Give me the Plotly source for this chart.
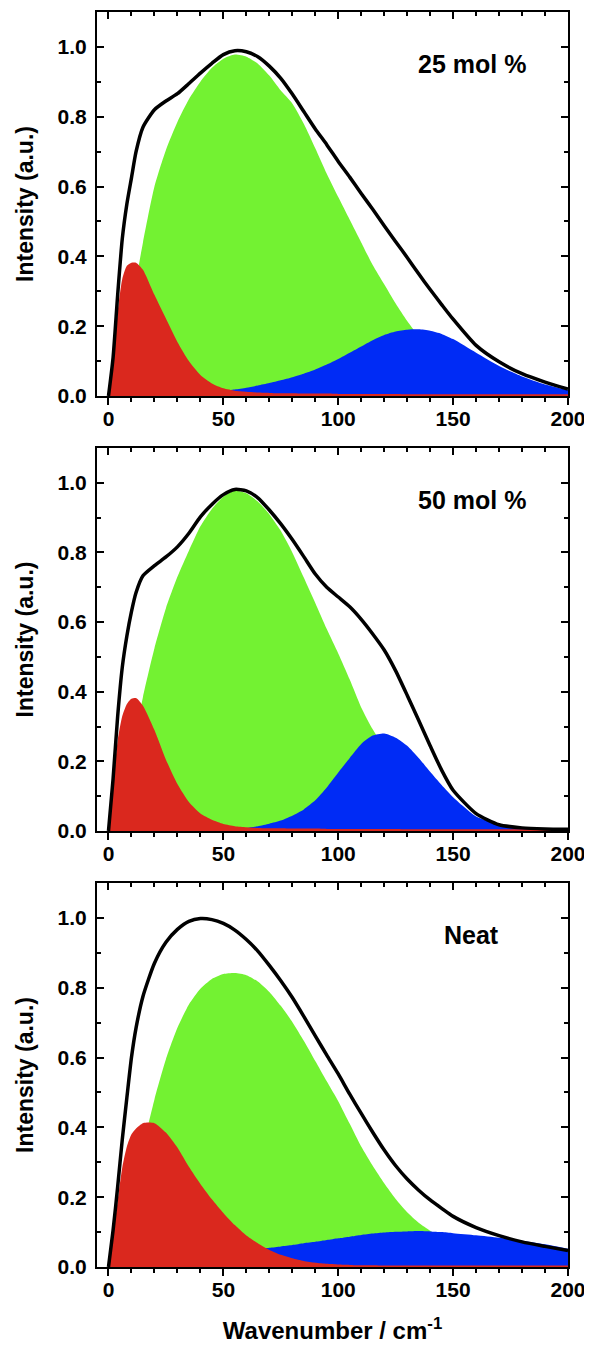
import plotly.graph_objects as go

# wavenumber points (cm-1) where the curves were read
wavenumber = [0, 2, 4, 6, 8, 10, 12, 15, 20, 25, 30, 35, 40, 45, 50, 55, 60, 65, 70, 75,
              80, 85, 90, 95, 100, 105, 110, 115, 120, 125, 130, 135, 140, 145, 150,
              160, 170, 180, 190, 200]

# 25 mol %
total_25 = [0, 0.11, 0.29, 0.45, 0.55, 0.625, 0.70, 0.77, 0.82, 0.845, 0.866, 0.895, 0.925, 0.953,
            0.978, 0.989, 0.986, 0.972, 0.945, 0.91, 0.865, 0.815, 0.765, 0.72, 0.672, 0.627, 0.58,
            0.535, 0.488, 0.442, 0.397, 0.35, 0.305, 0.262, 0.22, 0.145, 0.098, 0.064, 0.04, 0.02]
green_25 = [0, 0.015, 0.045, 0.11, 0.19, 0.26, 0.33, 0.44, 0.60, 0.705, 0.785, 0.85, 0.90, 0.94,
            0.966, 0.978, 0.972, 0.952, 0.918, 0.875, 0.838, 0.78, 0.71, 0.637, 0.57, 0.505, 0.44,
            0.375, 0.32, 0.265, 0.215, 0.17, 0.12, 0.085, 0.055, 0.02, 0.008, 0.003, 0.001, 0]
blue_25 = [0, 0, 0, 0.001, 0.001, 0.001, 0.002, 0.002, 0.003, 0.004, 0.006, 0.008, 0.010, 0.013,
           0.016, 0.019, 0.024, 0.030, 0.037, 0.045, 0.054, 0.064, 0.076, 0.090, 0.106, 0.124, 0.142,
           0.16, 0.175, 0.185, 0.19, 0.191, 0.187, 0.178, 0.163, 0.124, 0.086, 0.056, 0.033, 0.017]
red_25 = [0, 0.09, 0.24, 0.335, 0.373, 0.382, 0.382, 0.362, 0.29, 0.222, 0.155, 0.10, 0.06, 0.036,
          0.022, 0.015, 0.012, 0.010, 0.009, 0.008, 0.008, 0.007, 0.007, 0.007, 0.006, 0.006, 0.006,
          0.006, 0.006, 0.006, 0.005, 0.005, 0.005, 0.005, 0.005, 0.005, 0.005, 0.005, 0.005, 0.005]

# 50 mol %
total_50 = [0, 0.15, 0.33, 0.47, 0.56, 0.63, 0.685, 0.733, 0.762, 0.787, 0.816, 0.855, 0.902, 0.938,
            0.966, 0.981, 0.977, 0.957, 0.922, 0.882, 0.837, 0.788, 0.738, 0.70, 0.672, 0.644, 0.608,
            0.566, 0.52, 0.46, 0.39, 0.318, 0.245, 0.175, 0.117, 0.05, 0.018, 0.009, 0.006, 0.005]
green_50 = [0, 0.015, 0.045, 0.09, 0.15, 0.21, 0.28, 0.385, 0.525, 0.64, 0.73, 0.805, 0.875, 0.925,
            0.96, 0.977, 0.97, 0.946, 0.91, 0.862, 0.80, 0.728, 0.655, 0.58, 0.51, 0.435, 0.355,
            0.292, 0.24, 0.18, 0.125, 0.085, 0.055, 0.035, 0.02, 0.006, 0.002, 0.001, 0, 0]
blue_50 = [0, 0, 0, 0, 0.001, 0.001, 0.001, 0.001, 0.002, 0.002, 0.003, 0.003, 0.004, 0.005,
           0.006, 0.007, 0.009, 0.014, 0.021, 0.03, 0.044, 0.062, 0.088, 0.125, 0.168, 0.21, 0.25,
           0.274, 0.28, 0.268, 0.245, 0.21, 0.17, 0.132, 0.097, 0.042, 0.02, 0.01, 0.006, 0.005]
red_50 = [0, 0.13, 0.26, 0.33, 0.365, 0.38, 0.382, 0.36, 0.29, 0.205, 0.135, 0.083, 0.05, 0.032,
          0.02, 0.014, 0.011, 0.009, 0.008, 0.008, 0.007, 0.007, 0.007, 0.006, 0.006, 0.006, 0.006,
          0.006, 0.006, 0.006, 0.005, 0.005, 0.005, 0.005, 0.005, 0.005, 0.005, 0.005, 0.005, 0.005]

# neat
total_neat = [0, 0.105, 0.23, 0.365, 0.485, 0.60, 0.685, 0.775, 0.87, 0.93, 0.967, 0.99, 0.998, 0.995,
              0.984, 0.965, 0.938, 0.905, 0.864, 0.82, 0.772, 0.718, 0.662, 0.607, 0.553, 0.495, 0.44,
              0.386, 0.335, 0.29, 0.252, 0.22, 0.192, 0.168, 0.145, 0.113, 0.09, 0.072, 0.059, 0.047]
green_neat = [0, 0.01, 0.03, 0.06, 0.10, 0.15, 0.21, 0.34, 0.48, 0.595, 0.685, 0.752, 0.797, 0.825,
              0.839, 0.842, 0.836, 0.818, 0.788, 0.748, 0.702, 0.648, 0.59, 0.532, 0.475, 0.41, 0.345,
              0.29, 0.24, 0.195, 0.157, 0.127, 0.104, 0.082, 0.064, 0.038, 0.022, 0.012, 0.007, 0.004]
blue_neat = [0, 0.001, 0.003, 0.005, 0.007, 0.009, 0.011, 0.014, 0.018, 0.022, 0.026, 0.03, 0.034, 0.038,
             0.042, 0.045, 0.048, 0.051, 0.055, 0.059, 0.063, 0.068, 0.072, 0.077, 0.082, 0.087, 0.092,
             0.096, 0.099, 0.101, 0.102, 0.103, 0.102, 0.1, 0.097, 0.091, 0.084, 0.075, 0.065, 0.052]
red_neat = [0, 0.09, 0.19, 0.285, 0.345, 0.38, 0.397, 0.412, 0.412, 0.385, 0.342, 0.287, 0.238, 0.194,
            0.155, 0.12, 0.09, 0.068, 0.049, 0.035, 0.025, 0.017, 0.012, 0.009, 0.007, 0.006, 0.005,
            0.005, 0.004, 0.004, 0.004, 0.004, 0.004, 0.004, 0.004, 0.004, 0.004, 0.004, 0.004, 0.004]

labels = ["25 mol %", "50 mol %", "Neat"]

RED = 'rgb(218,40,30)'
GREEN = 'rgb(115,242,50)'
BLUE = 'rgb(0,43,245)'
FONT = "Liberation Sans, Arial, sans-serif"

panels = [
    (labels[0], total_25, green_25, blue_25, red_25),
    (labels[1], total_50, green_50, blue_50, red_50),
    (labels[2], total_neat, green_neat, blue_neat, red_neat),
]
domains = [[0.694, 1.0], [0.3474, 0.6526], [0.0, 0.306]]


def sfx(n):
    return '' if n == 1 else str(n)


fig = go.Figure()
for i, (label, tot, g, b, r) in enumerate(panels, start=1):
    xa, ya = 'x' + sfx(i), 'y' + sfx(i)
    # green, blue, red filled bands, then the measured curve on top
    for yv, col in [(g, GREEN), (b, BLUE), (r, RED)]:
        fig.add_trace(go.Scatter(x=wavenumber, y=yv, xaxis=xa, yaxis=ya, mode='lines',
                                 line=dict(width=0, color=col, shape='spline', smoothing=0.6),
                                 fill='tozeroy', fillcolor=col, showlegend=False, hoverinfo='skip'))
    fig.add_trace(go.Scatter(x=wavenumber, y=tot, xaxis=xa, yaxis=ya, mode='lines',
                             line=dict(width=3.5, color='black', shape='spline', smoothing=0.6),
                             showlegend=False))
    # empty trace so the top tick axis gets drawn
    fig.add_trace(go.Scatter(x=[], y=[], xaxis='x' + str(i + 3), yaxis=ya, showlegend=False))

    xdict = dict(
        domain=[0, 1], anchor=ya, range=[-5, 200], showline=True, linewidth=2, linecolor='black',
        mirror=True, ticks='outside', ticklen=7, tickwidth=2, tickcolor='black',
        tick0=0, dtick=50, showgrid=False, zeroline=False, automargin=False,
        minor=dict(dtick=10, ticks='outside', ticklen=4, tickwidth=2, tickcolor='black'),
        tickfont=dict(family=FONT, size=21, color='black', weight='bold'),
        ticklabelstandoff=-4,
    )
    if i == 3:
        xdict['title'] = dict(text='Wavenumber / cm<sup>-1</sup>',
                              font=dict(family=FONT, size=24, color='black', weight='bold'),
                              standoff=22)
    fig.layout['xaxis' + sfx(i)] = xdict
    fig.layout['xaxis' + str(i + 3)] = dict(
        overlaying='x' + sfx(i), anchor=ya, side='top', range=[-5, 200], showline=False,
        ticks='inside', ticklen=7, tickwidth=2, tickcolor='black', tick0=0, dtick=50,
        minor=dict(dtick=10, ticks='inside', ticklen=4, tickwidth=2, tickcolor='black'),
        showticklabels=False, showgrid=False, zeroline=False, automargin=False,
    )
    fig.layout['yaxis' + sfx(i)] = dict(
        domain=domains[i - 1], anchor=xa, range=[0, 1.1], showline=True, linewidth=2,
        linecolor='black', mirror='ticks', ticks='inside', ticklen=7, tickwidth=2,
        tickcolor='black', tick0=0, dtick=0.2, tickformat='.1f', showgrid=False, zeroline=False,
        minor=dict(dtick=0.1, ticks='inside', ticklen=4, tickwidth=2, tickcolor='black'),
        tickfont=dict(family=FONT, size=21, color='black', weight='bold'),
        ticklabelstandoff=4, automargin=False,
        title=dict(text='Intensity (a.u.)', font=dict(family=FONT, size=23, color='black', weight='bold'),
                   standoff=18),
    )
    fig.add_annotation(x=158, y=0.952, xref=xa, yref=ya, text=label, showarrow=False,
                       font=dict(family=FONT, size=25, color='black', weight='bold'))

# the page body adds an 8 px offset, so the figure is 8 px smaller with tighter left/top margins
fig.update_layout(width=584, height=1339, margin=dict(l=89, r=24, t=4, b=80, autoexpand=False),
                  paper_bgcolor='white', plot_bgcolor='white', showlegend=False)

fig.write_html("out.html")
